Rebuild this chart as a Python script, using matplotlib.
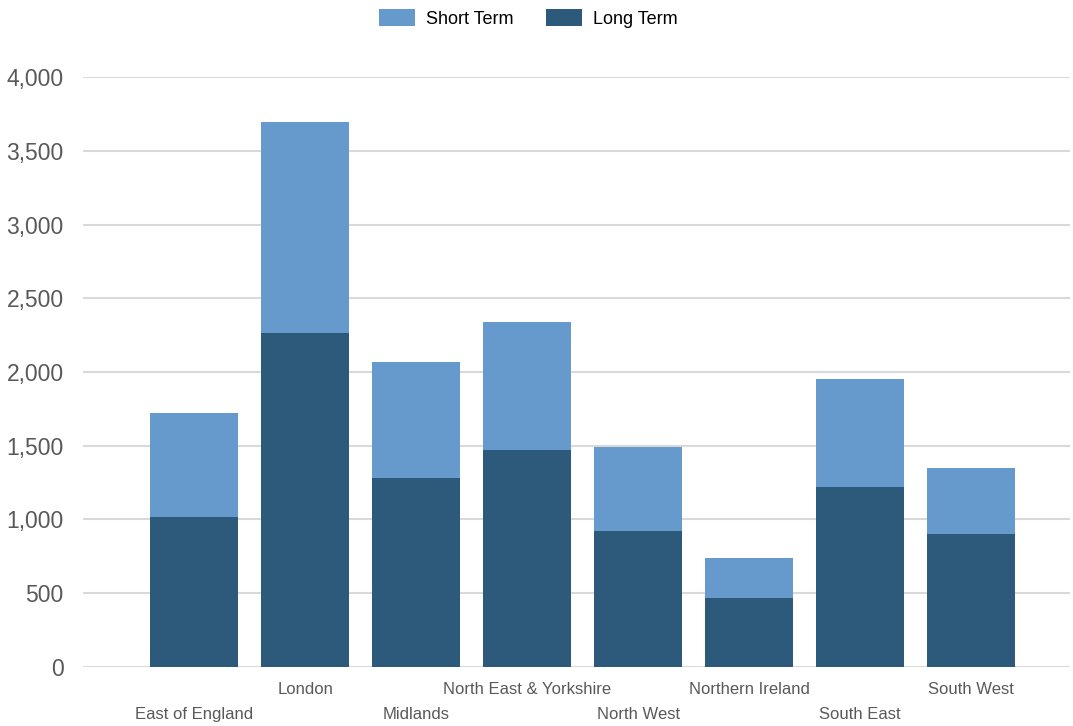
import matplotlib.pyplot as plt
import matplotlib.ticker as mticker
import numpy as np

plt.rcParams['font.family'] = ['Liberation Sans', 'DejaVu Sans']

regions = ["East of England", "London", "Midlands", "North East & Yorkshire",
           "North West", "Northern Ireland", "South East", "South West"]
long_term = [1020, 2265, 1280, 1470, 920, 465, 1220, 900]
short_term = [705, 1430, 790, 870, 570, 275, 730, 450]

long_color = "#2D5A7B"
short_color = "#6699CC"
grey = "#595959"

fig = plt.figure(figsize=(10.73, 7.26), dpi=100)
ax = fig.add_axes([0.0774, 0.0813, 0.9198, 0.8126])

x = np.arange(len(regions))
width = 0.79
ax.bar(x, long_term, width, color=long_color, label="Long Term", zorder=3)
ax.bar(x, short_term, width, bottom=long_term, color=short_color,
       label="Short Term", zorder=3)

ax.set_ylim(0, 4000)
ax.set_xlim(-1.0, 7.89)
ax.set_yticks(np.arange(0, 4001, 500))
ax.yaxis.set_major_formatter(mticker.StrMethodFormatter("{x:,.0f}"))
ax.tick_params(axis="y", length=0, pad=14, labelsize=16.5, labelcolor=grey)
ax.grid(axis="y", color="#D9D9D9", linewidth=1.5, zorder=0)
for s in ax.spines.values():
    s.set_visible(False)

# staggered category labels
ax.set_xticks([])
for i, name in enumerate(regions):
    yoff = -16 if i % 2 else -34
    ax.annotate(name, (x[i], 0), xytext=(0, yoff), textcoords="offset points",
                ha="center", va="center", fontsize=12, color=grey,
                annotation_clip=False)

handles, labels = ax.get_legend_handles_labels()
fig.legend(handles[::-1], labels[::-1], loc="center", ncol=2,
           bbox_to_anchor=(0.492, 0.975), frameon=False, fontsize=13,
           handlelength=2.0, handleheight=1.1, columnspacing=1.8,
           handletextpad=0.6)

fig.savefig("out.png", dpi=100)
